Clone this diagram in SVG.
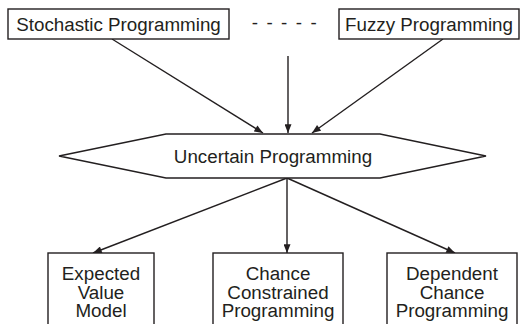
<svg xmlns="http://www.w3.org/2000/svg" width="522" height="324" viewBox="0 0 522 324">
  <defs>
    <marker id="arrow" viewBox="0 0 10 8" refX="10" refY="4" markerWidth="10" markerHeight="7" markerUnits="userSpaceOnUse" orient="auto">
      <path d="M0,0 L10,4 L0,8 Z" fill="#231f20"/>
    </marker>
    <style>
      .box { fill: #ffffff; stroke: #231f20; stroke-width: 1.4; }
      .lbl { font-family: "Liberation Sans", Arial, sans-serif; font-size: 18.8px; fill: #231f20; text-anchor: middle; }
      .edge { fill: none; stroke: #231f20; stroke-width: 1.4; marker-end: url(#arrow); }
    </style>
  </defs>
  <rect width="522" height="324" fill="#ffffff"/>

  <!-- connectors -->
  <g id="connectors">
    <line class="edge" x1="112" y1="39" x2="263" y2="133"/>
    <line class="edge" x1="288" y1="56" x2="288" y2="133"/>
    <line class="edge" x1="443" y1="39" x2="312" y2="133"/>
    <line class="edge" x1="287" y1="178" x2="93" y2="253"/>
    <line class="edge" x1="287" y1="178" x2="287" y2="253"/>
    <line class="edge" x1="287" y1="178" x2="455" y2="253"/>
  </g>

  <!-- sources -->
  <g id="stochastic">
    <rect class="box" x="8" y="9" width="221" height="30"/>
    <text class="lbl" x="118.5" y="31">Stochastic Programming</text>
  </g>
  <g id="ellipsis">
    <text class="lbl" x="285" y="29" letter-spacing="1.6">- - - - -</text>
  </g>
  <g id="fuzzy">
    <rect class="box" x="339" y="9" width="180" height="30"/>
    <text class="lbl" x="429" y="31">Fuzzy Programming</text>
  </g>

  <!-- central node -->
  <g id="uncertain">
    <polygon class="box" points="59,156 166,134 380,134 486,156 380,178 166,178"/>
    <text class="lbl" x="273" y="163">Uncertain Programming</text>
  </g>

  <!-- models -->
  <g id="expected">
    <rect class="box" x="48" y="253" width="106" height="80"/>
    <text class="lbl" x="101" y="280">Expected</text>
    <text class="lbl" x="101" y="298.5">Value</text>
    <text class="lbl" x="101" y="317">Model</text>
  </g>
  <g id="chance">
    <rect class="box" x="213" y="253" width="130" height="80"/>
    <text class="lbl" x="278" y="280">Chance</text>
    <text class="lbl" x="278" y="298.5">Constrained</text>
    <text class="lbl" x="278" y="317">Programming</text>
  </g>
  <g id="dependent">
    <rect class="box" x="387" y="253" width="130" height="80"/>
    <text class="lbl" x="452" y="280">Dependent</text>
    <text class="lbl" x="452" y="298.5">Chance</text>
    <text class="lbl" x="452" y="317">Programming</text>
  </g>
</svg>
